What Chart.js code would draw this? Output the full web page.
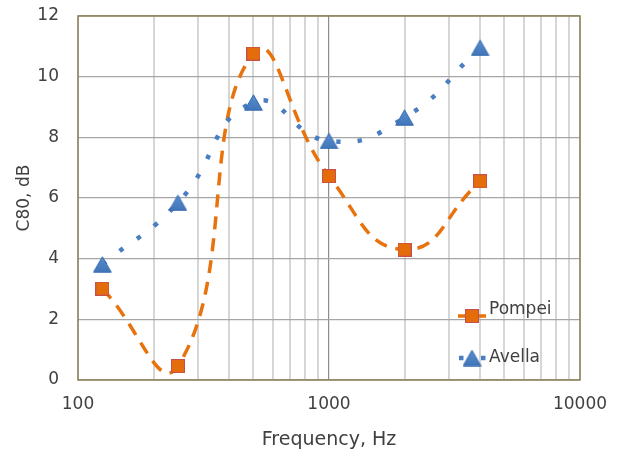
<!DOCTYPE html>
<html>
<head>
<meta charset="utf-8">
<script src="https://cdn.jsdelivr.net/npm/chart.js@4/dist/chart.umd.min.js"></script>
<style>
  html, body { margin: 0; padding: 0; background: #ffffff; }
  #wrap { width: 618px; height: 452px; position: relative; }
</style>
</head>
<body>
<div id="wrap"><canvas id="c" width="618" height="452"></canvas></div>
<script>
// ---- data ----
const frequencies = [125, 250, 500, 1000, 2000, 4000];
const pompeValues = [3.01, 0.46, 10.76, 6.72, 4.30, 6.55];
const avellaValues = [3.81, 5.84, 9.15, 7.88, 8.65, 10.95];
const seriesNames = ['Pompei', 'Avella'];
const xTickLabels = [100, 1000, 10000];
const xGridValues = [100, 200, 300, 400, 500, 600, 700, 800, 900,
                     1000, 2000, 3000, 4000, 5000, 6000, 7000, 8000, 9000, 10000];
const yMin = 0, yMax = 12, yStep = 2;
const xTitle = 'Frequency, Hz';
const yTitle = 'C80, dB';

// ---- styles ----
const ORANGE = '#E8720C';
const BLUE = '#4A7EC0';
const TEXT = '#404040';
const FONT = "'DejaVu Sans', Verdana, sans-serif";
const ORANGE_DASH = [13, 9];
const BLUE_DASH = [4.5, 17];

function squareMarker() {
  const c = document.createElement('canvas');
  c.width = 14; c.height = 14;
  const g = c.getContext('2d');
  g.fillStyle = '#E46C0A';
  g.fillRect(0, 0, 14, 14);
  g.strokeStyle = '#C8504A';
  g.lineWidth = 1;
  g.strokeRect(0.5, 0.5, 13, 13);
  return c;
}
function triangleMarker() {
  const c = document.createElement('canvas');
  c.width = 19; c.height = 17;
  const g = c.getContext('2d');
  g.beginPath();
  g.moveTo(9.5, 0.8);
  g.lineTo(18.3, 16.2);
  g.lineTo(0.7, 16.2);
  g.closePath();
  const grad = g.createLinearGradient(0, 0, 0, 17);
  grad.addColorStop(0, '#5A8FD0');
  grad.addColorStop(1, '#3F74B8');
  g.fillStyle = grad;
  g.fill();
  g.strokeStyle = '#3669AE';
  g.lineWidth = 1;
  g.stroke();
  return c;
}
const sqImg = squareMarker();
const triImg = triangleMarker();

const frameAndLegend = {
  id: 'frameAndLegend',
  afterDatasetsDraw(chart) {
    const { ctx, chartArea: a } = chart;
    ctx.save();
    ctx.strokeStyle = '#8C8258';
    ctx.lineWidth = 1.5;
    ctx.strokeRect(a.left, a.top, a.right - a.left, a.bottom - a.top);
    const mx = 472;
    let y = 316;
    ctx.fillStyle = ORANGE;
    ctx.fillRect(458, y - 1.75, 8, 3.5);
    ctx.fillRect(479, y - 1.75, 7, 3.5);
    ctx.drawImage(sqImg, mx - 7, y - 7);
    ctx.fillStyle = TEXT;
    ctx.font = '17px ' + FONT;
    ctx.textBaseline = 'middle';
    ctx.textAlign = 'left';
    ctx.fillText(seriesNames[0], 489, 310);
    y = 358;
    ctx.fillStyle = BLUE;
    ctx.fillRect(459, y - 2.25, 4.5, 4.5);
    ctx.fillRect(481, y - 2.25, 4.5, 4.5);
    ctx.drawImage(triImg, mx - 9.5, y - 8.5);
    ctx.fillStyle = TEXT;
    ctx.fillText(seriesNames[1], 489, 358);
    ctx.restore();
  }
};

const toPoints = vals => frequencies.map((f, i) => ({ x: f, y: vals[i] }));

new Chart(document.getElementById('c'), {
  type: 'line',
  data: {
    datasets: [
      {
        label: seriesNames[1],
        data: toPoints(avellaValues),
        borderColor: BLUE,
        borderWidth: 4.5,
        borderDash: BLUE_DASH,
        borderCapStyle: 'butt',
        tension: 0.5,
        pointStyle: triImg,
        pointRadius: 9,
        pointHoverRadius: 9,
        fill: false
      },
      {
        label: seriesNames[0],
        data: toPoints(pompeValues),
        borderColor: ORANGE,
        borderWidth: 3.5,
        borderDash: ORANGE_DASH,
        borderCapStyle: 'butt',
        tension: 0.5,
        pointStyle: sqImg,
        pointRadius: 7,
        pointHoverRadius: 7,
        fill: false
      }
    ]
  },
  options: {
    responsive: false,
    animation: false,
    events: [],
    layout: { padding: { top: 16, right: 38, left: 0, bottom: 0 } },
    elements: { line: { capBezierPoints: false } },
    plugins: {
      legend: { display: false },
      tooltip: { enabled: false }
    },
    scales: {
      x: {
        type: 'logarithmic',
        min: 100,
        max: 10000,
        afterBuildTicks: s => { s.ticks = xGridValues.map(v => ({ value: v })); },
        afterFit: s => { s.height = 72; s.paddingLeft = 0; s.paddingRight = 0; },
        ticks: {
          autoSkip: false,
          maxRotation: 0,
          padding: 14,
          color: TEXT,
          font: { family: FONT, size: 17 },
          callback: v => xTickLabels.includes(v) ? String(v) : ''
        },
        grid: {
          drawTicks: false,
          color: c => (c.tick && c.tick.value === 1000) ? '#8C8C8C' : '#D6D6D6',
          lineWidth: c => (c.tick && c.tick.value === 1000) ? 1.2 : 2
        },
        border: { display: false },
        title: {
          display: true,
          text: xTitle,
          color: TEXT,
          font: { family: FONT, size: 19 },
          padding: { top: 0, bottom: 1 }
        }
      },
      y: {
        min: yMin,
        max: yMax,
        afterFit: s => { s.width = 78; s.paddingTop = 0; s.paddingBottom = 0; },
        ticks: {
          stepSize: yStep,
          padding: 19,
          color: TEXT,
          font: { family: FONT, size: 17 }
        },
        grid: {
          drawTicks: false,
          color: '#A6A6A6',
          lineWidth: 1.2
        },
        border: { display: false },
        title: {
          display: true,
          text: yTitle,
          color: TEXT,
          font: { family: FONT, size: 17 },
          padding: { top: 14, bottom: 0 }
        }
      }
    }
  },
  plugins: [frameAndLegend]
});
</script>
</body>
</html>
